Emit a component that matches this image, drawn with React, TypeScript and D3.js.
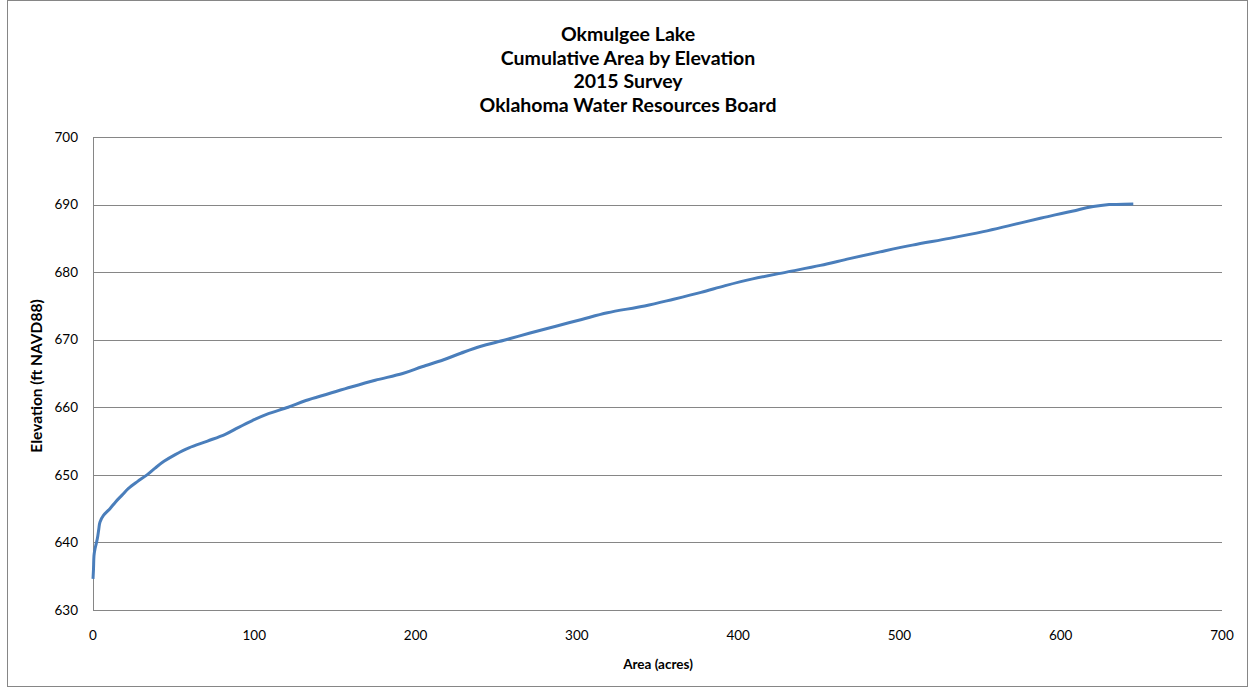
import React from "react";
import * as d3 from "d3";

const titleLines = [
  "Okmulgee Lake",
  "Cumulative Area by Elevation",
  "2015 Survey",
  "Oklahoma Water Resources Board",
];

const elevation = [
  634.6, 636, 638, 639, 640, 641, 642, 643, 644, 645, 646, 647, 648, 649, 650,
  651, 652, 653, 654, 655, 656, 657, 658, 659, 660, 661, 662, 663, 664, 665,
  666, 667, 668, 669, 670, 671, 672, 673, 674, 675, 676, 677, 678, 679, 680,
  681, 682, 683, 684, 685, 686, 687, 688, 689, 690, 690.1,
];
const area = [
  0, 0.3, 0.6, 1.2, 2.2, 3.0, 3.6, 4.3, 6.5, 10.5, 14, 18, 22, 27.5, 33.5,
  38.5, 44, 51, 59.5, 71, 82, 90, 98.5, 108, 121, 132, 146, 160, 175, 192,
  204, 217, 228, 240, 256, 271, 287, 303, 319, 342, 360, 377, 392, 409, 430,
  451, 469, 488, 508, 531, 552, 570, 588, 607, 630, 645,
];

const xTicks = [0, 100, 200, 300, 400, 500, 600, 700];
const yTicks = [630, 640, 650, 660, 670, 680, 690, 700];

export default function App() {
  const W = 1249;
  const H = 688;
  const left = 93;
  const right = 1222;
  const top = 137;
  const bottom = 610;
  const x = d3.scaleLinear().domain([0, 700]).range([left, right]);
  const y = d3.scaleLinear().domain([630, 700]).range([bottom, top]);
  const pts = area.map((a, i) => [a, elevation[i]] as [number, number]);
  const line = d3
    .line<[number, number]>()
    .x((d) => x(d[0]))
    .y((d) => y(d[1]))
    .curve(d3.curveMonotoneY);
  const font = "Lato, 'Open Sans', sans-serif";
  return (
    <svg
      width={W}
      height={H}
      style={{ position: "absolute", left: 0, top: 0, background: "#fff" }}
    >
      <rect x={7.5} y={0.5} width={1240} height={686} fill="#fff" stroke="#868686" />
      {titleLines.map((t, i) => (
        <text
          key={t}
          x={628}
          y={41 + i * 23.5}
          textAnchor="middle"
          fontFamily={font}
          fontWeight="bold"
          fontSize={19.5}
          fill="#000"
        >
          {t}
        </text>
      ))}
      {yTicks.map((v) => (
        <g key={v}>
          {v !== 630 && (
            <line x1={left} x2={right} y1={Math.round(y(v)) + 0.5} y2={Math.round(y(v)) + 0.5} stroke="#868686" strokeWidth={1} />
          )}
          <text x={78} y={y(v)} dy="0.35em" textAnchor="end" fontFamily={font} fontSize={13.5} fill="#000">
            {v}
          </text>
        </g>
      ))}
      <line x1={left + 0.5} x2={left + 0.5} y1={top} y2={bottom} stroke="#868686" />
      <line x1={left} x2={right} y1={bottom + 0.5} y2={bottom + 0.5} stroke="#868686" />
      {xTicks.map((v) => (
        <text key={v} x={x(v)} y={640} textAnchor="middle" fontFamily={font} fontSize={13.5} fill="#000">
          {v}
        </text>
      ))}
      <path d={line(pts) || ""} fill="none" stroke="#4a7ebb" strokeWidth={3} strokeLinejoin="round" />
      <text x={658} y={669} textAnchor="middle" fontFamily={font} fontWeight="bold" fontSize={13.5} fill="#000">
        Area (acres)
      </text>
      <text
        transform={`translate(42,376) rotate(-90)`}
        textAnchor="middle"
        fontFamily={font}
        fontWeight="bold"
        fontSize={15.5}
        fill="#000"
      >
        Elevation (ft NAVD88)
      </text>
    </svg>
  );
}
